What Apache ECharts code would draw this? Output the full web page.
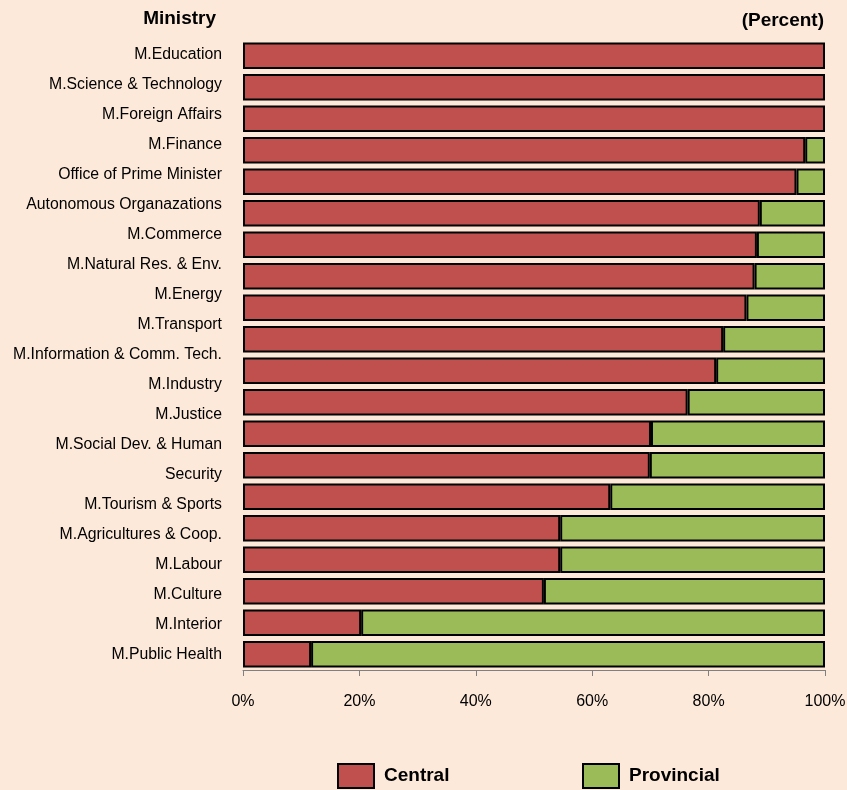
<!DOCTYPE html>
<html>
<head>
<meta charset="utf-8">
<script src="https://cdn.jsdelivr.net/npm/echarts@6/dist/echarts.min.js"></script>
<style>
html,body{margin:0;padding:0;background:#FDE9D9;}
#chart{width:847px;height:790px;}
</style>
</head>
<body>
<div id="chart"></div>
<script>
// Bar categories (20 bars)
const categories = [
  'M.Education', 'M.Science & Technology', 'M.Foreign Affairs', 'M.Finance',
  'Office of Prime Minister', 'Autonomous Organazations', 'M.Commerce',
  'M.Natural Res. & Env.', 'M.Energy', 'M.Transport', 'M.Information & Comm. Tech.',
  'M.Industry', 'M.Justice', 'M.Social Dev. & Human Security', 'M.Tourism & Sports',
  'M.Agricultures & Coop.', 'M.Labour', 'M.Culture', 'M.Interior', 'M.Public Health'
];
// Label lines as printed on the left (21 lines)
const labelLines = [
  'M.Education', 'M.Science & Technology', 'M.Foreign Affairs', 'M.Finance',
  'Office of Prime Minister', 'Autonomous Organazations', 'M.Commerce',
  'M.Natural Res. & Env.', 'M.Energy', 'M.Transport', 'M.Information & Comm. Tech.',
  'M.Industry', 'M.Justice', 'M.Social Dev. & Human', 'Security', 'M.Tourism & Sports',
  'M.Agricultures & Coop.', 'M.Labour', 'M.Culture', 'M.Interior', 'M.Public Health'
];
const central = [100, 100, 100, 96.6, 95.1, 88.8, 88.3, 87.9, 86.5, 82.5, 81.3, 76.4, 70.1, 69.9, 63.1, 54.5, 54.5, 51.7, 20.3, 11.7];
const provincial = [0, 0, 0, 3.4, 4.9, 11.2, 11.7, 12.1, 13.5, 17.5, 18.7, 23.6, 29.9, 30.1, 36.9, 45.5, 45.5, 48.3, 79.7, 88.3];
const xTicks = [0, 20, 40, 60, 80, 100];

const chart = echarts.init(document.getElementById('chart'), null, {renderer: 'canvas'});
const font = 'Liberation Sans, Arial, sans-serif';
const legendText = {fontFamily: font, fontSize: 19, fontWeight: 'bold', color: '#000', padding: [0, 0, 0, 5]};
// zero-width segments get no border so they do not thicken the bar's right edge
const provincialItems = provincial.map(v => v === 0 ? {value: v, itemStyle: {borderWidth: 0}} : v);
const option = {
  backgroundColor: '#FDE9D9',
  animation: false,
  title: [
    {text: 'Ministry', right: 631, top: 9, padding: 0, textStyle: {fontFamily: font, fontSize: 19, fontWeight: 'bold', color: '#000'}},
    {text: '(Percent)', right: 23, top: 11, padding: 0, textStyle: {fontFamily: font, fontSize: 19, fontWeight: 'bold', color: '#000'}}
  ],
  legend: [
    {data: ['Central'], left: 337, top: 763, padding: 0, itemWidth: 36, itemHeight: 24, icon: 'rect',
     textStyle: legendText, itemStyle: {borderColor: '#000', borderWidth: 2}},
    {data: ['Provincial'], left: 582, top: 763, padding: 0, itemWidth: 36, itemHeight: 24, icon: 'rect',
     textStyle: legendText, itemStyle: {borderColor: '#000', borderWidth: 2}}
  ],
  grid: {left: 243, right: 22, top: 40, height: 630, containLabel: false, outerBoundsMode: 'none'},
  xAxis: {
    type: 'value', min: 0, max: 100, interval: 20,
    axisLine: {show: true, lineStyle: {color: '#808080', width: 1}},
    axisTick: {show: true, length: 6, lineStyle: {color: '#808080'}},
    splitLine: {show: false},
    axisLabel: {formatter: '{value}%', fontFamily: font, fontSize: 16, color: '#000', margin: 24},
    data: xTicks
  },
  yAxis: [
    {type: 'category', data: categories, inverse: true,
     axisLine: {show: false}, axisTick: {show: false}, axisLabel: {show: false}},
    {type: 'category', data: labelLines, inverse: true, position: 'left',
     axisLine: {show: false}, axisTick: {show: false},
     axisLabel: {fontFamily: font, fontSize: 15.8, color: '#000', margin: 21}}
  ],
  series: [
    {name: 'Central', type: 'bar', stack: 'a', yAxisIndex: 0, data: central, barCategoryGap: '16%',
     itemStyle: {color: '#C0504D', borderColor: '#000', borderWidth: 2}},
    {name: 'Provincial', type: 'bar', stack: 'a', yAxisIndex: 0, data: provincialItems, barCategoryGap: '16%',
     itemStyle: {color: '#9BBB59', borderColor: '#000', borderWidth: 2}}
  ]
};
chart.setOption(option);
</script>
</body>
</html>
